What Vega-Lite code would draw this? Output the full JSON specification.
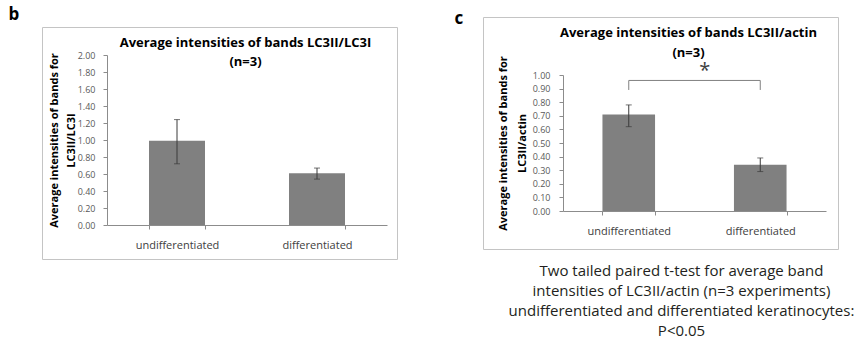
{
  "$schema": "https://vega.github.io/schema/vega-lite/v6.json",
  "background": "white",
  "padding": {"left": 8, "top": 6, "right": 0, "bottom": 0},
  "config": {
    "font": "Open Sans",
    "view": {"stroke": "#c4c4c4", "strokeWidth": 1},
    "concat": {"spacing": 56},
    "axis": {"domainColor": "#8c8c8c", "tickColor": "#8c8c8c", "grid": false, "labelFont": "Open Sans", "titleFont": "Open Sans", "labelOverlap": false},
    "title": {"font": "Open Sans"}
  },
  "hconcat": [
    {
      "title": {"text": "b", "anchor": "start", "fontSize": 17, "fontWeight": "bold", "color": "#000000", "dx": -33, "offset": -7},
      "spacing": 0,
      "vconcat": [
        {
          "width": 355,
          "height": 9,
          "view": {"stroke": null},
          "data": {"values": []},
          "mark": {"type": "point", "opacity": 0},
          "encoding": {}
        },
        {
          "width": 355,
          "height": 232,
          "title": {"text": ["Average intensities of bands LC3II/LC3I", "(n=3)"], "fontSize": 13, "fontWeight": "bold", "color": "#000000", "lineHeight": 19, "anchor": "middle", "offset": 0, "dy": 42, "dx": 26},
          "data": {"values": [
            {"group": "undifferentiated", "mean": 0.99, "lo": 0.72, "hi": 1.24},
            {"group": "differentiated", "mean": 0.61, "lo": 0.54, "hi": 0.67}
          ]},
          "layer": [
            {
              "mark": {"type": "bar", "color": "#808080"},
              "encoding": {
                "x": {"field": "group", "type": "nominal", "sort": null,
                  "scale": {"domain": ["undifferentiated", "differentiated"], "range": [{"expr": "65"}, {"expr": "345"}], "paddingInner": 0.6, "paddingOuter": 0.3},
                  "axis": {"title": null, "labelAngle": 0, "offset": -34, "tickBand": "extent", "tickSize": 4, "labelPadding": 10, "labelFontSize": 11, "labelColor": "#404040"}},
                "y": {"field": "mean", "type": "quantitative",
                  "scale": {"domain": [0, 2], "range": [{"expr": "198"}, {"expr": "28"}], "nice": false},
                  "axis": {"title": ["Average intensities of bands for", "LC3II/LC3I"], "titleFontSize": 11, "titleFontWeight": "bold", "titleColor": "#000000", "titleLineHeight": 17, "titlePadding": 1,
                    "offset": -65, "values": [0, 0.2, 0.4, 0.6, 0.8, 1.0, 1.2, 1.4, 1.6, 1.8, 2.0], "tickCount": 11, "format": ".2f", "labelOverlap": false, "labelFontSize": 9, "labelColor": "#595959", "tickSize": 4, "labelPadding": 8}}
              }
            },
            {
              "mark": {"type": "rule", "color": "#3a3a3a"},
              "encoding": {"x": {"field": "group", "type": "nominal"}, "y": {"field": "lo", "type": "quantitative"}, "y2": {"field": "hi"}}
            },
            {
              "mark": {"type": "tick", "color": "#3a3a3a", "size": 6, "thickness": 1},
              "encoding": {"x": {"field": "group", "type": "nominal"}, "y": {"field": "hi", "type": "quantitative"}}
            },
            {
              "mark": {"type": "tick", "color": "#3a3a3a", "size": 6, "thickness": 1},
              "encoding": {"x": {"field": "group", "type": "nominal"}, "y": {"field": "lo", "type": "quantitative"}}
            }
          ]
        }
      ]
    },
    {
      "title": {"text": "c", "anchor": "start", "fontSize": 17, "fontWeight": "bold", "color": "#000000", "dx": -28, "dy": 13, "offset": 2},
      "vconcat": [
        {
          "title": {"text": ["Two tailed  paired t-test for average band", "intensities of LC3II/actin (n=3  experiments)", "undifferentiated and differentiated keratinocytes:", "P<0.05"], "orient": "bottom", "anchor": "middle", "fontSize": 15, "fontWeight": "normal", "color": "#231f20", "lineHeight": 20, "offset": 14, "dx": 21},
          "vconcat": [
            {
              "width": 355,
              "height": 232,
              "title": {"text": ["Average intensities of bands LC3II/actin", "(n=3)"], "fontSize": 13, "fontWeight": "bold", "color": "#000000", "lineHeight": 20, "anchor": "middle", "offset": 0, "dy": 43, "dx": 28},
              "data": {"values": [
                {"group": "undifferentiated", "mean": 0.71, "lo": 0.62, "hi": 0.78},
                {"group": "differentiated", "mean": 0.34, "lo": 0.29, "hi": 0.39}
              ]},
              "layer": [
                {
                  "mark": {"type": "bar", "color": "#808080"},
                  "encoding": {
                    "x": {"field": "group", "type": "nominal", "sort": null,
                      "scale": {"domain": ["undifferentiated", "differentiated"], "range": [{"expr": "80"}, {"expr": "343"}], "paddingInner": 0.6, "paddingOuter": 0.3},
                      "axis": {"title": null, "labelAngle": 0, "offset": -38, "tickBand": "extent", "tickSize": 4, "labelPadding": 10, "labelFontSize": 11, "labelColor": "#404040"}},
                    "y": {"field": "mean", "type": "quantitative",
                      "scale": {"domain": [0, 1], "range": [{"expr": "194"}, {"expr": "58"}], "nice": false},
                      "axis": {"title": ["Average intensities of bands for", "LC3II/actin"], "titleFontSize": 11, "titleFontWeight": "bold", "titleColor": "#000000", "titleLineHeight": 19, "titlePadding": 5,
                        "offset": -80, "values": [0, 0.1, 0.2, 0.3, 0.4, 0.5, 0.6, 0.7, 0.8, 0.9, 1.0], "tickCount": 11, "format": ".2f", "labelOverlap": false, "labelFontSize": 9, "labelColor": "#595959", "tickSize": 4, "labelPadding": 9}}
                  }
                },
                {
                  "mark": {"type": "rule", "color": "#3a3a3a"},
                  "encoding": {"x": {"field": "group", "type": "nominal"}, "y": {"field": "lo", "type": "quantitative"}, "y2": {"field": "hi"}}
                },
                {
                  "mark": {"type": "tick", "color": "#3a3a3a", "size": 6, "thickness": 1},
                  "encoding": {"x": {"field": "group", "type": "nominal"}, "y": {"field": "hi", "type": "quantitative"}}
                },
                {
                  "mark": {"type": "tick", "color": "#3a3a3a", "size": 6, "thickness": 1},
                  "encoding": {"x": {"field": "group", "type": "nominal"}, "y": {"field": "lo", "type": "quantitative"}}
                },
                {
                  "data": {"values": [{"a": "undifferentiated", "b": "differentiated", "y": 0.96}]},
                  "mark": {"type": "rule", "color": "#808080"},
                  "encoding": {"x": {"field": "a", "type": "nominal"}, "x2": {"field": "b"}, "y": {"field": "y", "type": "quantitative"}}
                },
                {
                  "data": {"values": [{"g": "undifferentiated", "y1": 0.89, "y2": 0.96}, {"g": "differentiated", "y1": 0.89, "y2": 0.96}]},
                  "mark": {"type": "rule", "color": "#808080"},
                  "encoding": {"x": {"field": "g", "type": "nominal"}, "y": {"field": "y1", "type": "quantitative"}, "y2": {"field": "y2"}}
                },
                {
                  "data": {"values": [{"g": "undifferentiated", "y": 1.03, "t": "*"}]},
                  "mark": {"type": "text", "fontSize": 20, "dx": 76, "color": "#404040", "baseline": "middle"},
                  "encoding": {"x": {"field": "g", "type": "nominal"}, "y": {"field": "y", "type": "quantitative"}, "text": {"field": "t"}}
                }
              ]
            }
          ]
        }
      ]
    }
  ]
}
